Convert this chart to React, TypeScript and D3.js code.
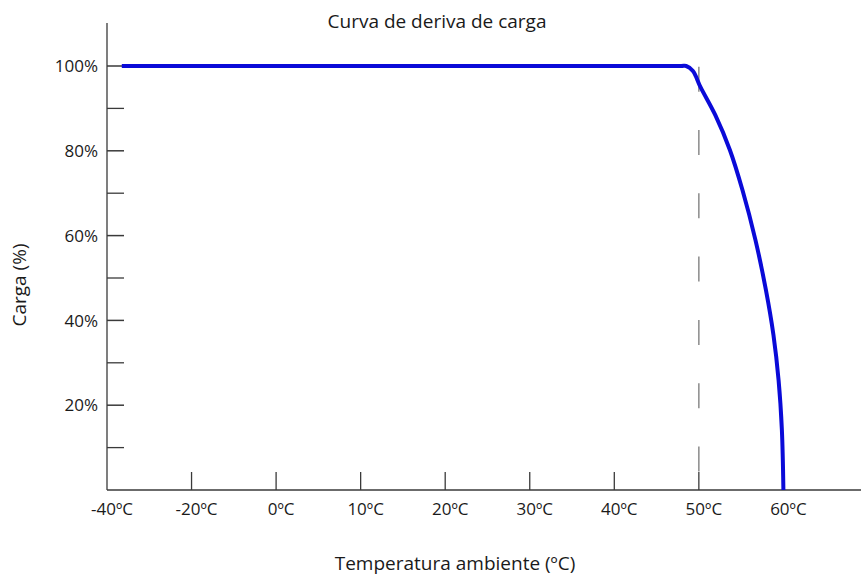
import React from 'react';
import * as d3 from 'd3';

// categorical temperature ticks, drawn at equal spacing
const tempTicks = [-40, -20, 0, 10, 20, 30, 40, 50, 60];
const loadTicks = [20, 40, 60, 80, 100];
const minorLoadTicks = [10, 30, 50, 70, 90];

// derating curve
const curveTemp = [-36.5, 47.9, 48.5, 49.3, 50.2, 51.95, 53.67, 55.15, 56.69, 57.93, 58.82, 59.43, 59.82, 60];
const curveLoad = [100, 100, 100, 98.8, 95.0, 88.4, 80.2, 70.8, 59.0, 47.2, 36.6, 25.9, 14.2, 0];

const derateStart = 50;

const App = () => {
  const width = 861;
  const height = 579;
  const left = 107;
  const bottom = 490;
  const step = 84.55;

  // piecewise scale so the uneven temperatures sit evenly
  const x = d3
    .scaleLinear()
    .domain(tempTicks)
    .range(tempTicks.map((_, i) => left + i * step));

  const y = d3.scaleLinear().domain([0, 100]).range([bottom, 66]);

  const points = curveTemp.map((t, i) => [t, curveLoad[i]]);
  const line = d3
    .line()
    .x((d) => x(d[0]))
    .y((d) => y(d[1]))
    .curve(d3.curveCatmullRom.alpha(0.5));

  const font = '"Open Sans", sans-serif';
  const axisColor = '#3a3a3a';
  const textColor = '#1a1a1a';

  return (
    <svg
      width={width}
      height={height}
      style={{ position: 'absolute', left: 0, top: 0, background: '#fff' }}
      fontFamily={font}
    >
      <text x={437} y={28} textAnchor='middle' fontSize={19} fill={textColor}>
        Curva de deriva de carga
      </text>

      {/* dashed line at start of derating */}
      <line
        x1={x(derateStart)}
        x2={x(derateStart)}
        y1={y(100) + 0.7}
        y2={bottom}
        stroke='#8a8a8a'
        strokeWidth={1.5}
        strokeDasharray='25 38.3'
      />

      {/* axes */}
      <line x1={left} x2={left} y1={23} y2={bottom} stroke={axisColor} strokeWidth={1.3} />
      <line x1={left} x2={width} y1={bottom} y2={bottom} stroke={axisColor} strokeWidth={1.3} />

      {tempTicks.map((t, i) => (
        <g key={t}>
          {i > 0 && (
            <line x1={x(t)} x2={x(t)} y1={bottom - 18} y2={bottom} stroke={axisColor} strokeWidth={1.3} />
          )}
          <text x={x(t) + 5} y={515} textAnchor='middle' fontSize={17} fill={textColor}>
            {`${t}ºC`}
          </text>
        </g>
      ))}

      {loadTicks.map((v) => (
        <g key={v}>
          <line x1={left} x2={left + 17} y1={y(v)} y2={y(v)} stroke={axisColor} strokeWidth={1.5} />
          <text x={98} y={y(v)} dy='0.36em' textAnchor='end' fontSize={17} fill={textColor}>
            {`${v}%`}
          </text>
        </g>
      ))}
      {minorLoadTicks.map((v) => (
        <line key={v} x1={left} x2={left + 17} y1={y(v)} y2={y(v)} stroke={axisColor} strokeWidth={1.3} />
      ))}

      <path d={line(points)} fill='none' stroke='#0a0ad8' strokeWidth={4} />

      <text x={455} y={570} textAnchor='middle' fontSize={19} fill={textColor}>
        Temperatura ambiente (ºC)
      </text>
      <text
        transform='translate(26, 285) rotate(-90)'
        textAnchor='middle'
        fontSize={19}
        fill={textColor}
      >
        Carga (%)
      </text>
    </svg>
  );
};

export default App;
